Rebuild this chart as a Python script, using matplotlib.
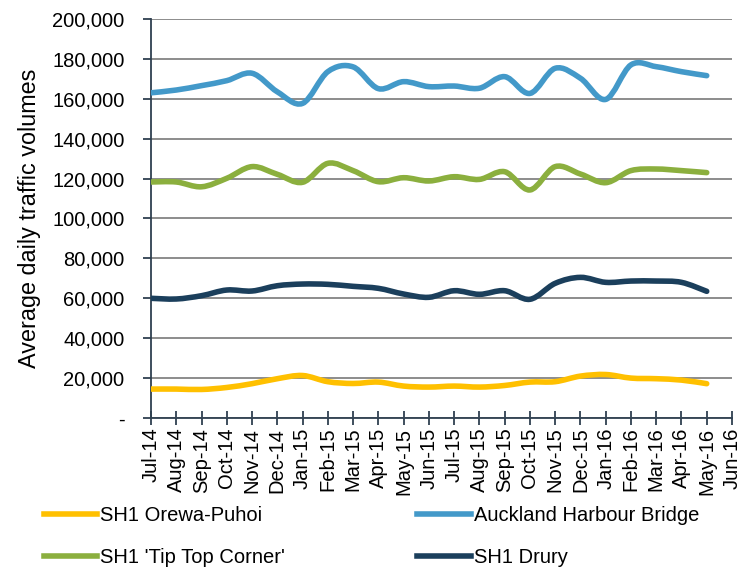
import numpy as np
import matplotlib
matplotlib.use("Agg")
import matplotlib.pyplot as plt
from matplotlib.path import Path
from matplotlib.patches import PathPatch
from matplotlib.lines import Line2D
from matplotlib.ticker import FuncFormatter

plt.rcParams['font.family'] = ['Liberation Sans', 'DejaVu Sans']

months = ['Jul-14', 'Aug-14', 'Sep-14', 'Oct-14', 'Nov-14', 'Dec-14', 'Jan-15', 'Feb-15',
          'Mar-15', 'Apr-15', 'May-15', 'Jun-15', 'Jul-15', 'Aug-15', 'Sep-15', 'Oct-15',
          'Nov-15', 'Dec-15', 'Jan-16', 'Feb-16', 'Mar-16', 'Apr-16', 'May-16', 'Jun-16']

orewa = [14500, 14500, 14300, 15300, 17200, 19700, 21300, 18200, 17300, 18000, 16000, 15500,
         16000, 15500, 16300, 18000, 18200, 21000, 21800, 20000, 19700, 19000, 17200]
harbour = [163000, 164400, 166600, 169100, 172800, 163500, 157700, 173600, 176000, 165100,
           168600, 166100, 166400, 165300, 171100, 162700, 175300, 170300, 159700, 177000,
           176100, 173600, 171600]
tiptop = [118300, 118300, 115900, 120150, 126000, 122150, 118150, 127650, 124000, 118450,
          120450, 118800, 120950, 119600, 123450, 114300, 126000, 122300, 117950, 124000,
          124800, 124000, 123000]
drury = [60000, 59650, 61300, 64150, 63650, 66300, 67150, 67000, 66000, 65000, 62150, 60500,
         63800, 62000, 63800, 59500, 67500, 70500, 68000, 68650, 68650, 68000, 63500]

series = [
    ("SH1 Orewa-Puhoi", orewa, "#FFC000"),
    ("Auckland Harbour Bridge", harbour, "#4399C9"),
    ("SH1 'Tip Top Corner'", tiptop, "#8BAF3E"),
    ("SH1 Drury", drury, "#1B3F5C"),
]


def smooth_path(y):
    # Excel-style smoothed line: cubic bezier through each point
    x = np.arange(len(y), dtype=float)
    y = np.asarray(y, dtype=float)
    pts = np.column_stack([x, y])
    verts = [pts[0]]
    codes = [Path.MOVETO]
    n = len(pts)
    for i in range(n - 1):
        p0 = pts[max(i - 1, 0)]
        p1 = pts[i]
        p2 = pts[i + 1]
        p3 = pts[min(i + 2, n - 1)]
        c1 = p1 + (p2 - p0) / 6.0
        c2 = p2 - (p3 - p1) / 6.0
        verts += [c1, c2, p2]
        codes += [Path.CURVE4] * 3
    return Path(verts, codes)


fig = plt.figure(figsize=(7.42, 5.69), dpi=100)
ax = fig.add_axes([151 / 742, 1 - 418 / 569, 581 / 742, 399 / 569])

lw = 4.0
for name, vals, col in series:
    patch = PathPatch(smooth_path(vals), facecolor='none', edgecolor=col, lw=lw,
                      capstyle='round', joinstyle='round', zorder=3)
    ax.add_patch(patch)

ax.set_xlim(0, 23)
ax.set_ylim(0, 200000)
ax.set_yticks(np.arange(0, 200001, 20000))
ax.yaxis.set_major_formatter(FuncFormatter(lambda v, p: '-' if v == 0 else f'{int(v):,}'))
ax.set_xticks(np.arange(len(months)))
ax.set_xticklabels(months, rotation=90)

ax.grid(axis='y', color='#8c8c8c', lw=1.4)
ax.set_axisbelow(True)
for s in ['top', 'right']:
    ax.spines[s].set_visible(False)
axis_col = '#2f4050'
ax.spines['left'].set_color(axis_col)
ax.spines['bottom'].set_color(axis_col)
ax.spines['left'].set_linewidth(1.3)
ax.spines['bottom'].set_linewidth(1.3)
ax.tick_params(axis='y', direction='out', length=6, width=1.3, color=axis_col,
               labelsize=14.5, pad=13)
ax.tick_params(axis='x', direction='inout', length=10, width=1.3, color=axis_col,
               labelsize=14.5, pad=2)
ax.set_ylabel('Average daily traffic volumes', fontsize=16.8, labelpad=8)

handles = [Line2D([], [], color=c, lw=lw) for _, _, c in series]
labels = [n for n, _, _ in series]
order = [0, 2, 1, 3]
fig.legend([handles[i] for i in order], [labels[i] for i in order], ncol=2,
           loc='upper left', bbox_to_anchor=(44 / 742, 1 - 506 / 569), frameon=False,
           fontsize=14.5, handlelength=2.65, handletextpad=0.15, columnspacing=6.55,
           labelspacing=1.12, borderaxespad=0, borderpad=0)

fig.savefig('out.png', dpi=100)
